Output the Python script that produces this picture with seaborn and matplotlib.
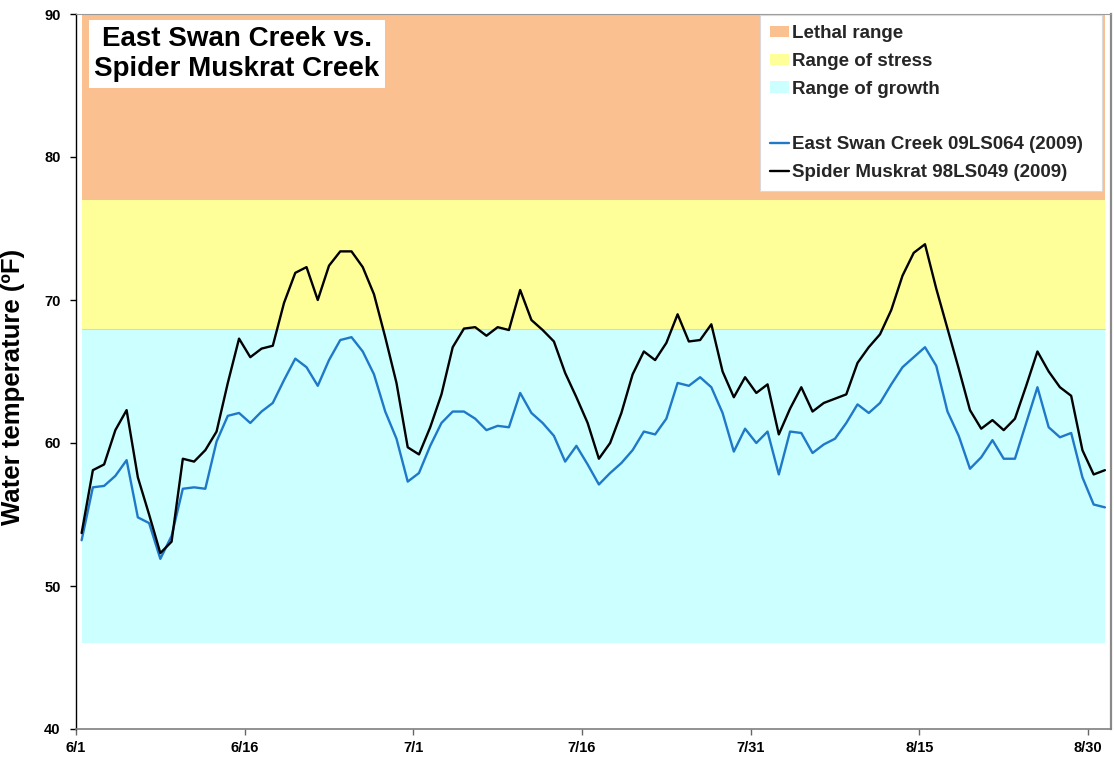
import numpy as np
import pandas as pd
import matplotlib
matplotlib.use("Agg")
import matplotlib.pyplot as plt
import matplotlib.transforms as mtransforms
from matplotlib.patches import Patch
from matplotlib.lines import Line2D
import seaborn as sns

# Daily mean water temperature (°F), 1 June - 31 August 2009
start_date = "2009-06-01 12:00"
n_days = 92

east_swan = [
    53.2, 56.9, 57.0, 57.7, 58.8, 54.8, 54.4, 51.9, 53.5, 56.8, 56.9, 56.8, 60.1, 61.9, 62.1, 61.4, 62.2,
    62.8, 64.4, 65.9, 65.3, 64.0, 65.8, 67.2, 67.4, 66.4, 64.8, 62.2, 60.3, 57.3, 57.9, 59.8,
    61.4, 62.2, 62.2, 61.7, 60.9, 61.2, 61.1, 63.5, 62.1, 61.4, 60.5, 58.7, 59.8, 58.5, 57.1, 57.9,
    58.6, 59.5, 60.8, 60.6, 61.7, 64.2, 64.0, 64.6, 63.9, 62.1, 59.4, 61.0, 60.0, 60.8, 57.8,
    60.8, 60.7, 59.3, 59.9, 60.3, 61.4, 62.7, 62.1, 62.8, 64.1, 65.3, 66.0, 66.7, 65.4, 62.2, 60.5,
    58.2, 59.0, 60.2, 58.9, 58.9, 61.4, 63.9, 61.1, 60.4, 60.7, 57.6, 55.7, 55.5,
]

spider_muskrat = [
    53.7, 58.1, 58.5, 60.9, 62.3, 57.6, 55.0, 52.3, 53.1, 58.9, 58.7, 59.5, 60.8, 64.2, 67.3, 66.0, 66.6,
    66.8, 69.8, 71.9, 72.3, 70.0, 72.4, 73.4, 73.4, 72.3, 70.4, 67.4, 64.2, 59.7, 59.2, 61.1,
    63.4, 66.7, 68.0, 68.1, 67.5, 68.1, 67.9, 70.7, 68.6, 67.9, 67.1, 64.9, 63.2, 61.4, 58.9, 60.0,
    62.1, 64.8, 66.4, 65.8, 67.0, 69.0, 67.1, 67.2, 68.3, 65.0, 63.2, 64.6, 63.5, 64.1, 60.6,
    62.4, 63.9, 62.2, 62.8, 63.1, 63.4, 65.6, 66.7, 67.6, 69.3, 71.7, 73.3, 73.9, 70.8, 68.0, 65.2,
    62.3, 61.0, 61.6, 60.9, 61.7, 64.0, 66.4, 65.0, 63.9, 63.3, 59.5, 57.8, 58.1,
]

series_names = ["East Swan Creek 09LS064 (2009)", "Spider Muskrat 98LS049 (2009)"]
series_colors = ["#1F78C8", "#000000"]

# Temperature tolerance ranges (°F)
band_labels = ["Lethal range", "Range of stress", "Range of growth"]
band_low = [77, 68, 46]
band_high = [90, 77, 68]
band_colors = ["#FAC08F", "#FFFF99", "#CCFFFF"]

tick_labels = ["6/1", "6/16", "7/1", "7/16", "7/31", "8/15", "8/30"]
y_ticks = [40, 50, 60, 70, 80, 90]

title_text = "East Swan Creek vs.\nSpider Muskrat Creek"
y_label = "Water temperature (ºF)"

# ---------------------------------------------------------------------------
dates = pd.date_range(start_date, periods=n_days, freq="D")
df = pd.DataFrame({
    "date": np.concatenate([dates, dates]),
    "temp": east_swan + spider_muskrat,
    "site": [series_names[0]] * n_days + [series_names[1]] * n_days,
})

sns.set_theme(style="ticks")
plt.rcParams["font.family"] = ["Liberation Sans", "DejaVu Sans"]
plt.rcParams["font.weight"] = "bold"

W, H = 1114, 759
fig = plt.figure(figsize=(W / 100, H / 100), dpi=100)
ax = fig.add_axes([76 / W, 30 / H, 1035 / W, 715 / H])

# Shaded tolerance ranges over the sampling period
for lo, hi, col in zip(band_low, band_high, band_colors):
    ax.fill_between(dates, [lo] * n_days, [hi] * n_days, color=col, linewidth=0, zorder=0)
ax.plot([dates[0], dates[-1]], [band_high[2], band_high[2]], color="#C8DCE0", lw=0.8, zorder=0.5)

sns.lineplot(data=df, x="date", y="temp", hue="site", hue_order=series_names,
             palette=series_colors, linewidth=1.7, legend=False, ax=ax, zorder=3)

# Axes
ax.set_ylim(40, 90)
ax.set_xlim(pd.Timestamp("2009-06-01"), pd.Timestamp("2009-09-01 01:00"))
ax.set_yticks(y_ticks)
ax.set_yticklabels([str(v) for v in y_ticks], fontsize=10.5, fontweight="bold")
tick_dates = [pd.Timestamp(f"2009-{lab.split('/')[0]}-{lab.split('/')[1]}") for lab in tick_labels]
ax.set_xticks(tick_dates)
ax.set_xticklabels(tick_labels, fontsize=10.5, fontweight="bold")
offset = mtransforms.ScaledTranslation(0.05, 0, fig.dpi_scale_trans)
for lab in ax.get_xticklabels():
    lab.set_transform(lab.get_transform() + offset)

ax.tick_params(axis="y", direction="out", length=4, width=1, color="black", pad=7, labelcolor="black")
ax.tick_params(axis="x", direction="out", length=4, width=1, color="#666666", pad=5, labelcolor="black")
ax.set_xlabel("")
ax.set_ylabel(y_label, fontsize=18.5, fontweight="bold", color="black")
ax.yaxis.set_label_coords(-0.049, 0.479)

ax.spines["left"].set_color("black")
ax.spines["left"].set_linewidth(1.0)
ax.spines["bottom"].set_color("#7f7f7f")
ax.spines["bottom"].set_linewidth(1.2)
ax.spines["top"].set_color("#9a9a9a")
ax.spines["top"].set_linewidth(0.8)
ax.spines["right"].set_color("#8a8a8a")
ax.spines["right"].set_linewidth(1.6)
ax.set_facecolor("white")

# Title box
ax.text(0.1556, 0.944, title_text, transform=ax.transAxes, ha="center", va="center",
        multialignment="center", fontsize=20, fontweight="bold", color="black",
        linespacing=1.2, zorder=5,
        bbox=dict(boxstyle="square,pad=0.2", facecolor="white", edgecolor="none"))

# Legend
handles = [Patch(facecolor=c, edgecolor="none") for c in band_colors]
labels = list(band_labels)
handles.append(Line2D([], [], color="none"))
labels.append(" ")
for name, col in zip(series_names, series_colors):
    handles.append(Line2D([], [], color=col, lw=1.7))
    labels.append(name)

leg = ax.legend(handles, labels, loc="upper left", bbox_to_anchor=(0.661, 0.9986, 0.33, 0.0),
                mode="expand", borderaxespad=0, frameon=True, fancybox=False,
                framealpha=1, facecolor="white", edgecolor="#d9d9d9", handlelength=1.0,
                handleheight=0.55, handletextpad=0.15, labelspacing=0.57, borderpad=0.55,
                prop={"weight": "bold", "size": 13.5})
leg.get_frame().set_linewidth(0.8)
leg.set_zorder(6)

fig.savefig("out.png", dpi=100, facecolor="white")
